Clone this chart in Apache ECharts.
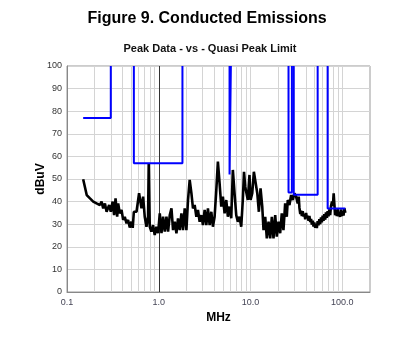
<!DOCTYPE html>
<html>
<head>
<meta charset="utf-8">
<script src="https://cdn.jsdelivr.net/npm/echarts@6/dist/echarts.min.js"></script>
<style>
  html, body { margin: 0; padding: 0; background: #fff; }
  #chart { width: 411px; height: 340px; }
</style>
</head>
<body>
<div id="chart"></div>
<script>
// Measured peak emissions (frequency in MHz, level in dBuV)
const freqMHz = [
  0.150, 0.164, 0.178, 0.193, 0.210, 0.228, 0.238, 0.248, 0.259, 0.270,
  0.288, 0.300, 0.314, 0.326, 0.338, 0.352, 0.361, 0.376, 0.393, 0.409,
  0.426, 0.445, 0.463, 0.483, 0.503, 0.520, 0.535, 0.572, 0.610, 0.648,
  0.675, 0.703, 0.734, 0.764, 0.777, 0.797, 0.830, 0.865, 0.903, 0.942,
  0.983, 1.025, 1.070, 1.114, 1.162, 1.212, 1.262, 1.317, 1.374, 1.430,
  1.492, 1.557, 1.620, 1.691, 1.764, 1.836, 1.916, 1.999, 2.081, 2.171,
  2.266, 2.358, 2.460, 2.567, 2.671, 2.788, 2.909, 3.028, 3.159, 3.296,
  3.431, 3.580, 3.735, 3.887, 4.056, 4.232, 4.405, 4.596, 4.796, 4.992,
  5.209, 5.434, 5.656, 5.902, 6.158, 6.410, 6.688, 6.978, 7.263, 7.579,
  7.908, 8.230, 8.480, 8.740, 9.330, 9.730, 10.00, 10.43, 10.86, 11.33,
  11.83, 12.31, 12.84, 13.40, 13.84, 14.44, 15.03, 15.69, 16.37, 17.04,
  17.77, 18.55, 19.30, 20.14, 21.01, 21.87, 22.82, 23.81, 24.79, 25.42,
  26.52, 27.66, 28.79, 30.05, 31.35, 32.62, 33.45,
  34.05, 34.80, 35.52, 36.20, 36.97, 37.80, 38.58, 39.40, 40.26, 41.10,
  41.90, 42.80, 43.72, 44.70, 45.60, 46.50, 47.50, 48.50, 49.50, 50.60,
  51.70, 52.70, 53.80, 55.00, 56.10, 57.30, 58.50, 59.70, 61.00, 62.30,
  63.60, 65.00, 66.30, 67.70, 69.10, 70.60, 72.10, 73.60, 75.20, 77.10,
  78.80, 80.40, 81.70, 83.40, 85.20, 87.00, 88.80, 90.70, 92.60, 94.60,
  96.60, 98.70, 100.8, 102.9, 105.1, 107.8
];
const peakDbuV = [
  49.9, 42.9, 41.4, 40.0, 39.2, 38.5, 40.0, 37.0, 39.2, 35.5,
  38.5, 35.5, 40.0, 34.0, 41.4, 33.3, 39.2, 34.8, 36.3, 31.9,
  33.3, 30.4, 31.9, 28.5, 31.1, 28.4, 35.5, 35.5, 43.7, 37.0,
  42.2, 33.3, 28.9, 33.3, 57.0, 28.9, 26.7, 29.6, 25.2, 28.9,
  26.0, 34.8, 26.0, 33.3, 26.7, 33.3, 26.7, 34.0, 37.0, 27.4,
  31.1, 26.0, 32.6, 27.4, 34.8, 27.4, 37.0, 27.4, 40.7, 49.6,
  43.7, 37.0, 38.5, 33.3, 36.3, 31.1, 34.0, 29.6, 36.3, 29.6,
  37.0, 29.6, 35.5, 28.9, 33.3, 45.1, 57.7, 48.1, 37.8, 42.2,
  34.8, 40.7, 33.3, 37.8, 32.6, 54.0, 43.7, 34.0, 31.1, 33.3,
  28.9, 40.7, 53.2, 46.6, 40.7, 51.8, 40.7, 43.7, 53.2, 54.0,
  43.7, 35.5, 45.9, 37.8, 27.4, 33.3, 23.7, 31.1, 23.7, 33.3,
  23.7, 34.0, 24.5, 31.1, 26.0, 34.8, 27.4, 39.2, 33.3, 40.7,
  38.5, 42.9, 40.7, 43.7, 42.2, 39.2, 42.2,
  37.3, 34.5, 36.0, 33.6, 35.8, 33.4, 34.5, 32.2, 35.0, 32.8,
  33.8, 31.5, 33.6, 31.0, 32.3, 29.8, 31.5, 29.0, 30.8, 28.4,
  30.0, 28.3, 31.4, 29.5, 32.2, 30.0, 33.0, 30.8, 33.8, 31.5,
  34.4, 32.0, 35.2, 32.8, 35.8, 33.5, 36.6, 34.0, 38.0, 40.0,
  38.0, 43.7, 39.2, 34.0, 36.0, 33.6, 37.0, 33.5, 35.2, 33.2,
  36.5, 33.6, 35.8, 33.8, 37.0, 35.0
];

// Quasi-peak limit mask; null starts a new segment
const limitFreq = [
  0.15, 0.30, 0.30, null,
  0.535, 0.535, 1.81, 1.81, null,
  5.90, 5.90, 6.10, 6.10, null,
  25.9, 25.9, 28.2, 28.2, null,
  29.5, 29.5, 53.8, 53.8, null,
  69.1, 69.1, 107.8
];
const limitDbuV = [
  77, 77, 100, null,
  100, 57, 57, 100, null,
  100, 52, 52, 100, null,
  100, 44, 44, 100, null,
  100, 43, 43, 100, null,
  100, 37, 37
];

// Axis ticks and gridline positions
const yTicks = [0, 10, 20, 30, 40, 50, 60, 70, 80, 90, 100];
const xTickValues = [0.1, 1, 10, 100];
const xTickLabels = ['0.1', '1.0', '10.0', '100.0'];
const xMinorGrid = [0.2, 0.3, 0.4, 0.5, 0.6, 0.7, 0.8, 0.9,
                    2, 3, 4, 5, 6, 7, 8, 9,
                    20, 30, 40, 50, 60, 70, 80, 90];

const traceData = freqMHz.map((f, i) => [f, peakDbuV[i]]);

const limitSegments = [];
let seg = [];
limitFreq.forEach((f, i) => {
  if (f === null) { limitSegments.push(seg); seg = []; }
  else seg.push([f, limitDbuV[i]]);
});
if (seg.length) limitSegments.push(seg);

const gridLines = xMinorGrid.map(v => ({ xAxis: v }))
  .concat([10, 100].map(v => ({ xAxis: v })));

const chart = echarts.init(document.getElementById('chart'), null, { renderer: 'canvas' });

const series = [
  {
    type: 'line', data: [], silent: true, z: 1,
    markLine: {
      silent: true, symbol: 'none', animation: false, z: 1,
      label: { show: false },
      lineStyle: { color: '#d4d4d4', width: 1, type: 'solid' },
      data: gridLines
    }
  },
  {
    type: 'line', data: [], silent: true, z: 1,
    markLine: {
      silent: true, symbol: 'none', animation: false, z: 1,
      label: { show: false },
      lineStyle: { color: '#333', width: 1, type: 'solid' },
      data: [{ xAxis: 1 }]
    }
  },
  {
    name: 'Peak', type: 'line', data: traceData, showSymbol: false,
    lineStyle: { color: '#000', width: 2.6 }, z: 3, animation: false
  }
].concat(limitSegments.map(s => ({
  name: 'QP Limit', type: 'line', data: s, showSymbol: false,
  lineStyle: { color: '#0000ff', width: 2 }, z: 4, animation: false
})));

chart.setOption({
  backgroundColor: '#fff',
  animation: false,
  title: [
    {
      text: 'Figure 9. Conducted Emissions', left: 202, top: 6, textAlign: 'center',
      textStyle: { fontFamily: 'Liberation Sans', fontWeight: 'bold', fontSize: 16, color: '#000' }
    },
    {
      text: 'Peak Data - vs - Quasi Peak Limit', left: 205, top: 38, textAlign: 'center',
      textStyle: { fontFamily: 'Liberation Sans', fontWeight: 'bold', fontSize: 11, color: '#111' }
    }
  ],
  grid: {
    left: 67, right: 41, top: 66, bottom: 48,
    show: true, borderColor: '#999', borderWidth: 1, backgroundColor: '#fff'
  },
  xAxis: {
    type: 'log', logBase: 10, min: 0.1, max: 200,
    name: 'MHz', nameLocation: 'middle', nameGap: 20,
    nameTextStyle: { fontFamily: 'Liberation Sans', fontWeight: 'bold', fontSize: 12, color: '#000' },
    axisLine: { show: true, lineStyle: { color: '#888' } },
    axisTick: { show: false },
    splitLine: { show: false },
    axisLabel: {
      fontFamily: 'Liberation Sans', fontSize: 9, color: '#445', margin: 6,
      showMaxLabel: false,
      formatter: v => {
        const k = xTickValues.findIndex(t => Math.abs(Math.log10(t) - Math.log10(v)) < 0.01);
        return k >= 0 ? xTickLabels[k] : '';
      }
    }
  },
  yAxis: {
    type: 'value', min: yTicks[0], max: yTicks[yTicks.length - 1], interval: 10,
    name: 'dBuV', nameLocation: 'middle', nameGap: 20, nameRotate: 90,
    nameMoveOverlap: false,
    nameTextStyle: { fontFamily: 'Liberation Sans', fontWeight: 'bold', fontSize: 12, color: '#000' },
    axisLine: { show: true, lineStyle: { color: '#888' } },
    axisTick: { show: false },
    splitLine: { show: true, lineStyle: { color: '#d4d4d4', width: 1 } },
    axisLabel: { fontFamily: 'Liberation Sans', fontSize: 9, color: '#333', margin: 5 }
  },
  series: series
});
</script>
</body>
</html>
